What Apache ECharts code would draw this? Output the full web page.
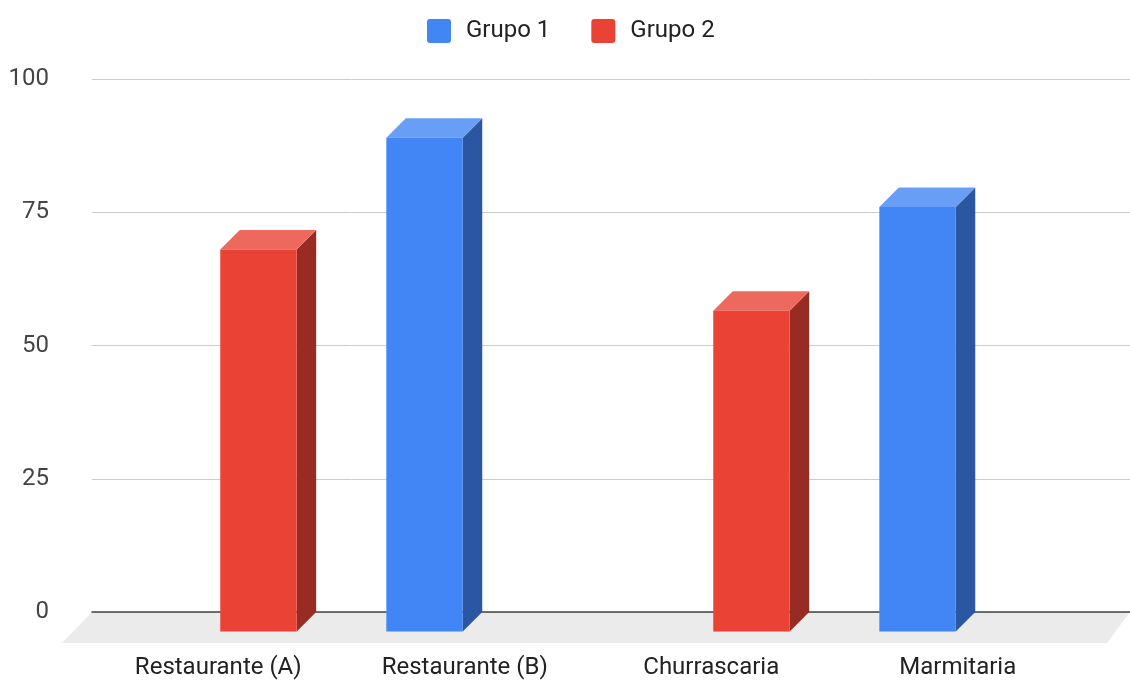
<!DOCTYPE html>
<html>
<head>
<meta charset="utf-8">
<script src="https://cdn.jsdelivr.net/npm/echarts@6/dist/echarts.min.js"></script>
<style>
html,body{margin:0;padding:0;background:#fff;}
#chart{width:1130px;height:680px;}
</style>
</head>
<body>
<div id="chart"></div>
<script>
// ---- data ----
const categories = ['Restaurante (A)', 'Restaurante (B)', 'Churrascaria', 'Marmitaria'];
const seriesNames = ['Grupo 1', 'Grupo 2'];
const grupo1 = [null, 89, null, 76];
const grupo2 = [68, null, 56.5, null];
const yTicks = [0, 25, 50, 75, 100];

// ---- styles ----
const FONT = 'Roboto';
const DEPTH = 19.5;
const palette = {
  'Grupo 1': { front: '#4285f4', top: '#699ef6', side: '#2a56a2' },
  'Grupo 2': { front: '#ea4335', top: '#ed695d', side: '#982b22' }
};

function toData(arr) {
  const out = [];
  arr.forEach((v, i) => { if (v !== null) out.push([i, v]); });
  return out;
}

function barRenderer(slot, colors) {
  return function (params, api) {
    const ci = api.value(0), v = api.value(1);
    const top = api.coord([ci, v]);
    const base = api.coord([ci, 0]);
    const band = api.size([1, 0])[0];
    const w = band * 0.31, gap = 4, d = DEPTH;
    const x0 = slot === 0 ? top[0] - gap / 2 - w : top[0] + gap / 2;
    const x1 = x0 + w;
    const yt = top[1], yb = base[1] + d;
    return {
      type: 'group',
      children: [
        { type: 'polygon', shape: { points: [[x1, yt], [x1 + d, yt - d], [x1 + d, base[1]], [x1, yb]] },
          style: { fill: colors.side } },
        { type: 'polygon', shape: { points: [[x0, yt], [x1, yt], [x1 + d, yt - d], [x0 + d, yt - d]] },
          style: { fill: colors.top } },
        { type: 'rect', shape: { x: x0, y: yt, width: w, height: yb - yt },
          style: { fill: colors.front } }
      ]
    };
  };
}

const chart = echarts.init(document.getElementById('chart'));
chart.setOption({
  animation: false,
  backgroundColor: '#ffffff',
  textStyle: { fontFamily: FONT },
  legend: {
    top: 14, left: 422,
    icon: 'path://M3,0H21Q24,0 24,3V21Q24,24 21,24H3Q0,24 0,21V3Q0,0 3,0Z',
    itemWidth: 24, itemHeight: 24, itemGap: 41,
    textStyle: { fontFamily: FONT, fontSize: 24, color: '#222', padding: [0, 0, 0, 10] },
    data: seriesNames
  },
  grid: [
    { left: 95, right: 49, top: 79, bottom: 68 },
    { left: 92, right: 0, top: 79, bottom: 68 }
  ],
  xAxis: [
    { type: 'category', gridIndex: 0, data: categories,
      axisLine: { show: false }, axisTick: { show: false }, splitLine: { show: false },
      axisLabel: { margin: 44, fontFamily: FONT, fontSize: 24, color: '#222', interval: 0 } },
    { type: 'value', gridIndex: 1, min: 0, max: 1, show: true,
      axisLine: { show: true, lineStyle: { color: '#444', width: 1.5 } },
      axisTick: { show: false }, axisLabel: { show: false }, splitLine: { show: false } }
  ],
  yAxis: [
    { type: 'value', gridIndex: 0, min: 0, max: 100, interval: 25, show: false, splitLine: { show: false } },
    { type: 'value', gridIndex: 1, min: yTicks[0], max: yTicks[yTicks.length - 1], interval: 25,
      axisLine: { show: false }, axisTick: { show: false },
      axisLabel: { margin: 43, fontFamily: FONT, fontSize: 24, color: '#444' },
      splitLine: { lineStyle: { color: '#cccccc', width: 1 } } }
  ],
  series: [
    { type: 'custom', name: 'floor', xAxisIndex: 1, yAxisIndex: 1, z: -1, silent: true,
      data: [[0, 0]],
      renderItem: function (params, api) {
        const a = api.coord([0, 0]);
        const b = api.coord([1, 0]);
        return { type: 'polygon',
          shape: { points: [[a[0], a[1]], [b[0], b[1]], [b[0] - 23, b[1] + 31], [a[0] - 30, a[1] + 31]] },
          style: { fill: '#ebebeb' } };
      } },
    { type: 'custom', name: 'Grupo 1', xAxisIndex: 0, yAxisIndex: 0,
      itemStyle: { color: palette['Grupo 1'].front },
      data: toData(grupo1), renderItem: barRenderer(0, palette['Grupo 1']) },
    { type: 'custom', name: 'Grupo 2', xAxisIndex: 0, yAxisIndex: 0,
      itemStyle: { color: palette['Grupo 2'].front },
      data: toData(grupo2), renderItem: barRenderer(1, palette['Grupo 2']) }
  ]
});
</script>
</body>
</html>
